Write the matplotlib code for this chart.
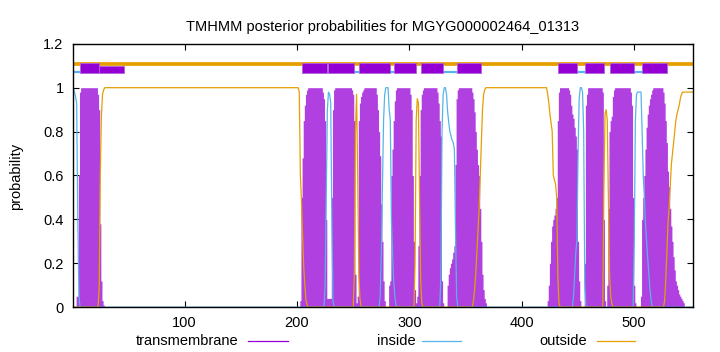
import matplotlib.pyplot as plt
import numpy as np
from matplotlib.lines import Line2D

plt.rcParams['font.family'] = ['Liberation Sans', 'DejaVu Sans']
plt.rcParams['font.size'] = 10.5

# --- data -------------------------------------------------------------
titolo = "TMHMM posterior probabilities for MGYG000002464_01313"
lunghezza = 552

# posterior probability per residue, given as (first residue, values)
# residues not listed are 0
tm_pezzi = [
    (4, [0.05, 0.05, 0.6, 0.98] + [1.0] * 15 + [0.97, 0.9, 0.38, 0.12, 0.03, 0.01]),
    (203, [0.03, 0.5, 0.68, 0.85, 0.92, 0.97, 0.99] + [1.0] * 13
          + [0.98, 0.95, 0.85, 0.4, 0.04, 0.04, 0.04, 0.04]),
    (231, [0.5, 0.9, 0.99] + [1.0] * 15 + [0.99, 0.97, 0.85, 0.15, 0.02]),
    (254, [0.05, 0.85, 0.93, 0.96, 0.98, 0.99] + [1.0] * 11
          + [0.97, 0.9, 0.8, 0.69, 0.47, 0.3, 0.12, 0.03]),
    (282, [0.1, 0.12, 0.6, 0.72, 0.85, 0.94, 0.99] + [1.0] * 12
          + [0.97, 0.9, 0.6, 0.3, 0.08, 0.02]),
    (307, [0.05, 0.28, 0.6, 0.9, 0.97, 0.99] + [1.0] * 12
          + [0.98, 0.93, 0.85, 0.78, 0.12, 0.02]),
    (334, [0.1, 0.15, 0.18, 0.2, 0.22, 0.25, 0.28, 0.65, 0.95, 0.99] + [1.0] * 12
          + [0.98, 0.95, 0.89, 0.8, 0.72, 0.65, 0.6, 0.45, 0.3, 0.15, 0.08, 0.04, 0.02]),
    (423, [0.03, 0.1, 0.2, 0.3, 0.37, 0.4, 0.42, 0.45, 0.5, 0.85, 0.98] + [1.0] * 8
          + [0.99, 0.97, 0.92, 0.88, 0.86, 0.82, 0.78, 0.72, 0.3, 0.12, 0.03]),
    (456, [0.2, 0.92, 0.97] + [1.0] * 13 + [0.98, 0.4, 0.03]),
    (476, [0.1, 0.45, 0.8, 0.85, 0.87, 0.96, 0.99] + [1.0] * 14
          + [0.98, 0.92, 0.5, 0.1, 0.02]),
    (506, [0.05, 0.4, 0.5, 0.6, 0.72, 0.82, 0.88, 0.92, 0.95, 0.97, 0.99] + [1.0] * 9
          + [0.98, 0.93, 0.85, 0.75, 0.62, 0.55, 0.45, 0.37, 0.3, 0.23, 0.17, 0.12,
             0.1, 0.08, 0.06, 0.05, 0.04, 0.03, 0.02]),
]

inside_pezzi = [
    (1, [1.0, 0.98, 0.96, 0.93, 0.4, 0.05]),
    (225, [0.1, 0.5, 0.9, 0.98, 0.97, 0.93, 0.4, 0.03]),
    (274, [0.05, 0.25, 0.55, 0.85, 0.97, 1.0, 1.0, 1.0, 0.9, 0.85, 0.4, 0.25, 0.12, 0.05, 0.01]),
    (328, [0.15, 0.8, 0.97, 1.0, 1.0, 0.97, 0.89, 0.84, 0.8, 0.78, 0.76, 0.75, 0.72, 0.35, 0.05]),
    (446, [0.05, 0.15, 0.25, 0.3, 0.7, 0.95, 1.0, 1.0, 0.98, 0.8, 0.1]),
    (500, [0.3, 0.85, 0.97, 0.98, 0.98, 0.98, 0.98, 0.8, 0.6, 0.5, 0.38, 0.3, 0.22, 0.15,
           0.08, 0.03]),
]

outside_pezzi = [
    (24, [0.08, 0.6, 0.87, 0.97, 0.99] + [1.0] * 173 + [0.98, 0.6, 0.48, 0.32, 0.18, 0.1, 0.03, 0.01]),
    (251, [0.15, 0.8, 0.97, 0.6, 0.15, 0.04]),
    (305, [0.2, 0.85, 0.95, 0.93, 0.5, 0.12, 0.02]),
    (357, [0.03, 0.08, 0.15, 0.25, 0.35, 0.45, 0.6, 0.75, 0.9, 0.97, 0.99] + [1.0] * 55
          + [0.97, 0.93, 0.88, 0.84, 0.8, 0.6, 0.58, 0.56, 0.5, 0.15, 0.02]),
    (473, [0.55, 0.88, 0.9, 0.85, 0.5, 0.15, 0.05, 0.02]),
    (527, [0.03, 0.12, 0.25, 0.38, 0.45, 0.55, 0.65, 0.7, 0.75, 0.8, 0.85, 0.88, 0.9, 0.92,
           0.95, 0.97] + [0.98] * 10),
]

# predicted topology shown above the curves
tm_box_inizio = [7, 204, 228, 255, 286, 310, 342, 432, 456, 478, 506.5]
tm_box_fine = [23.5, 226.5, 250.5, 282.5, 305.5, 329.5, 364, 449, 473, 500, 529]
tm_extra_inizio = [23.5]
tm_extra_fine = [46.5]
inside_inizio = [1, 227, 275, 329.5, 448.5, 500]
inside_fine = [7, 255, 286, 342, 456, 506.5]


def costruisci(pezzi):
    serie = np.zeros(lunghezza)
    for inizio, valori in pezzi:
        serie[inizio - 1:inizio - 1 + len(valori)] = valori
    return serie


residui = np.arange(1, lunghezza + 1)
tm = costruisci(tm_pezzi)
inside = costruisci(inside_pezzi)
outside = costruisci(outside_pezzi)

viola = '#9400d3'
blu = '#56b4e9'
arancio = '#e69f00'

fig = plt.figure(figsize=(7.2, 3.52), dpi=100)
ax = fig.add_axes([0.1018, 0.1273, 0.8603, 0.7483])

# transmembrane probability as impulses, drawn filled
ax.fill_between(residui, tm, step='mid', color='#b040e0', linewidth=0, zorder=2)
ax.plot(residui, inside, color=blu, lw=0.9, zorder=3)
ax.plot(residui, outside, color=arancio, lw=0.9, zorder=3)

# topology band
for a, b in zip(inside_inizio, inside_fine):
    ax.plot([a, b], [1.0715, 1.0715], color=blu, lw=1.6, solid_capstyle='butt', zorder=3)
for a, b in zip(tm_extra_inizio, tm_extra_fine):
    ax.bar(a, 1.099 - 1.068, bottom=1.068, width=b - a, align='edge',
           color=viola, edgecolor='#b060e0', lw=0.6, zorder=3)
ax.plot([1, lunghezza], [1.110, 1.110], color=arancio, lw=2.7, solid_capstyle='butt', zorder=4)
for a, b in zip(tm_box_inizio, tm_box_fine):
    ax.bar(a, 1.114 - 1.068, bottom=1.068, width=b - a, align='edge',
           color=viola, edgecolor='#b060e0', lw=0.6, zorder=5)

ax.set_xlim(1, lunghezza)
ax.set_ylim(0, 1.2)
ax.set_xticks([100, 200, 300, 400, 500])
ax.set_yticks([0, 0.2, 0.4, 0.6, 0.8, 1.0, 1.2])
ax.set_yticklabels(['0', '0.2', '0.4', '0.6', '0.8', '1', '1.2'])
ax.tick_params(direction='in', length=4, width=0.8, top=True, right=True, labelsize=10.5)
ax.tick_params(axis='y', pad=7)
ax.tick_params(axis='x', pad=6)
for s in ax.spines.values():
    s.set_linewidth(1.0)
    s.set_zorder(6)

ax.set_title(titolo, fontsize=10.5, pad=9)
fig.text(0.022, 0.5, 'probability', rotation=90, va='center', ha='center', fontsize=10.5)

# legend below the plot, gnuplot style: text then sample line
voci = [('transmembrane', viola, 238, 248, 288),
        ('inside', blu, 416, 422, 461),
        ('outside', arancio, 587, 597, 635)]
for testo, colore, fine_testo, x0, x1 in voci:
    fig.text(fine_testo / 720, 1 - 341 / 352, testo, ha='right', va='center', fontsize=10.5)
    fig.add_artist(Line2D([x0 / 720, x1 / 720], [1 - 341 / 352, 1 - 341 / 352],
                          color=colore, lw=0.9, transform=fig.transFigure))

fig.savefig('out.png', dpi=100)
